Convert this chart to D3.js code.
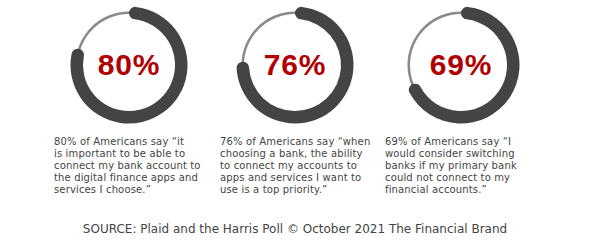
<!DOCTYPE html>
<html>
<head>
<meta charset="utf-8">
<style>
  body { margin: 0; background: #fff; }
</style>
</head>
<body>
<script src="https://d3js.org/d3.v7.min.js"></script>
<div id="chart"></div>
<script>
// data
var values = [80, 76, 69];
var valueLabels = ["80%", "76%", "69%"];
var quotes = [
  ["80% of Americans say \u201cit", "is important to be able to", "connect my bank account to", "the digital finance apps and", "services I choose.\u201d"],
  ["76% of Americans say \u201cwhen", "choosing a bank, the ability", "to connect my accounts to", "apps and services I want to", "use is a top priority.\u201d"],
  ["69% of Americans say \u201cI", "would consider switching", "banks if my primary bank", "could not connect to my", "financial accounts.\u201d"]
];
var source = "SOURCE: Plaid and the Harris Poll \u00a9 October 2021 The Financial Brand";

var width = 590, height = 241;
var svg = d3.select("#chart").append("svg")
  .attr("width", width)
  .attr("height", height);

// circle centres and text column starts
var cx = d3.scalePoint().domain(d3.range(values.length)).range([129, 461]);
var textX = [54, 220, 385];
var cy = 65;

var angle = d3.scaleLinear().domain([0, 100]).range([0, 2 * Math.PI]);

var track = d3.arc().innerRadius(51).outerRadius(53.5).startAngle(0).endAngle(2 * Math.PI);
var bar = d3.arc().innerRadius(46).outerRadius(58.5).cornerRadius(6.2).startAngle(0);

var g = svg.selectAll("g.donut")
  .data(values)
  .enter().append("g")
  .attr("class", "donut")
  .attr("transform", function(d, i) { return "translate(" + cx(i) + "," + cy + ")"; });

g.append("path")
  .attr("d", track())
  .attr("fill", "#8a8a8a");

g.append("path")
  .attr("d", function(d) { return bar({endAngle: angle(d)}); })
  .attr("fill", "#444444");

g.append("text")
  .attr("text-anchor", "middle")
  .attr("y", 10)
  .attr("font-family", "Liberation Sans, Arial, sans-serif")
  .attr("font-size", 30)
  .attr("font-weight", "bold")
  .attr("letter-spacing", 0.8)
  .attr("fill", "#b00000")
  .text(function(d, i) { return valueLabels[i]; });

// quotes
quotes.forEach(function(lines, i) {
  var t = svg.append("text")
    .attr("font-family", "DejaVu Sans, sans-serif")
    .attr("font-size", 10)
    .attr("letter-spacing", 0.15)
    .attr("fill", "#444444");
  lines.forEach(function(line, j) {
    t.append("tspan")
      .attr("x", textX[i])
      .attr("y", 145 + j * 11.9)
      .text(line);
  });
});

svg.append("text")
  .attr("x", 295)
  .attr("y", 233)
  .attr("text-anchor", "middle")
  .attr("font-family", "DejaVu Sans, sans-serif")
  .attr("font-size", 12)
  .attr("fill", "#444444")
  .text(source);
</script>
</body>
</html>
